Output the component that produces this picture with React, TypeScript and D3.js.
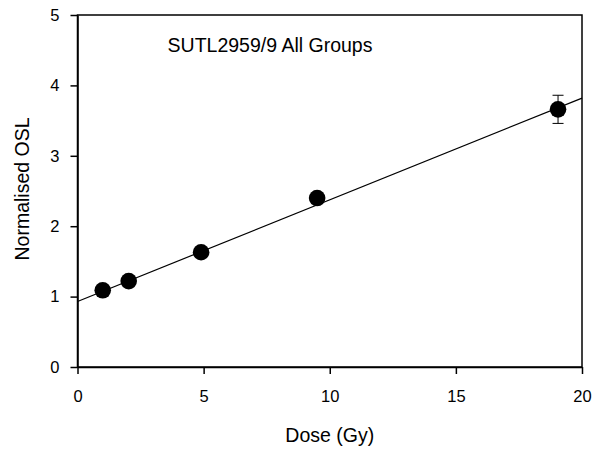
import * as d3 from "d3";
import React, { useEffect, useRef } from "react";

// measured points (dose in Gy, normalised OSL, error)
const doses = [1.0, 2.03, 4.9, 9.5, 19.05];
const osl = [1.09, 1.22, 1.63, 2.4, 3.66];
const errs = [0.04, 0.04, 0.04, 0.06, 0.2];

// fitted line endpoints
const fitX = [0, 20];
const fitY = [0.93, 3.82];

const xTicks = [0, 5, 10, 15, 20];
const yTicks = [0, 1, 2, 3, 4, 5];

function App() {
  const ref = useRef<SVGSVGElement>(null);

  useEffect(() => {
    const svg = d3.select(ref.current);
    svg.selectAll("*").remove();

    const margin = { top: 15, right: 13, bottom: 85, left: 77.5 };
    const width = 595 - margin.left - margin.right,
      height = 452 - margin.top - margin.bottom;

    const x = d3.scaleLinear().domain([0, 20]).range([0, width]);
    const y = d3.scaleLinear().domain([0, 5]).range([height, 0]);

    const font = "Arial, 'Liberation Sans', sans-serif";

    const chart = svg
      .append("g")
      .attr("transform", "translate(" + margin.left + "," + margin.top + ")");

    // frame
    chart
      .append("rect")
      .attr("width", width)
      .attr("height", height)
      .attr("fill", "none")
      .attr("stroke", "black")
      .attr("stroke-width", 1.5);

    const xAxis = chart
      .append("g")
      .attr("transform", "translate(0," + height + ")")
      .call(
        d3.axisBottom(x).tickValues(xTicks).tickFormat(d3.format("d")).tickSizeInner(7).tickSizeOuter(0).tickPadding(16)
      );
    const yAxis = chart
      .append("g")
      .call(
        d3.axisLeft(y).tickValues(yTicks).tickFormat(d3.format("d")).tickSizeInner(7).tickSizeOuter(0).tickPadding(11)
      );

    [xAxis, yAxis].forEach((a) => {
      a.select(".domain").attr("stroke-width", 1.5);
      a.selectAll(".tick line").attr("stroke-width", 1.5);
      a.selectAll("text")
        .attr("font-family", font)
        .attr("font-size", "16.5px")
        .attr("fill", "black");
    });

    // fit line
    chart
      .append("line")
      .attr("x1", x(fitX[0]))
      .attr("y1", y(fitY[0]))
      .attr("x2", x(fitX[1]))
      .attr("y2", y(fitY[1]))
      .attr("stroke", "black")
      .attr("stroke-width", 1.2);

    const data = doses.map((d, i) => ({ dose: d, v: osl[i], e: errs[i] }));

    // error bars
    const eb = chart.selectAll(".eb").data(data).enter().append("g");
    eb.append("line")
      .attr("x1", (d) => x(d.dose))
      .attr("x2", (d) => x(d.dose))
      .attr("y1", (d) => y(d.v + d.e))
      .attr("y2", (d) => y(d.v - d.e))
      .attr("stroke", "black");
    [1, -1].forEach((s) => {
      eb.append("line")
        .attr("x1", (d) => x(d.dose) - 5.5)
        .attr("x2", (d) => x(d.dose) + 5.5)
        .attr("y1", (d) => y(d.v + s * d.e))
        .attr("y2", (d) => y(d.v + s * d.e))
        .attr("stroke", "black");
    });

    chart
      .selectAll(".pt")
      .data(data)
      .enter()
      .append("circle")
      .attr("cx", (d) => x(d.dose))
      .attr("cy", (d) => y(d.v))
      .attr("r", 8.3)
      .attr("fill", "black");

    chart
      .append("text")
      .attr("x", 270 - margin.left)
      .attr("y", 37)
      .attr("text-anchor", "middle")
      .attr("font-family", font)
      .attr("font-size", "19.5px")
      .text("SUTL2959/9 All Groups");

    chart
      .append("text")
      .attr("x", width / 2)
      .attr("y", height + 75)
      .attr("text-anchor", "middle")
      .attr("font-family", font)
      .attr("font-size", "19.5px")
      .text("Dose (Gy)");

    chart
      .append("text")
      .attr("transform", "rotate(-90)")
      .attr("x", -height / 2 + 2)
      .attr("y", -margin.left + 29)
      .attr("text-anchor", "middle")
      .attr("font-family", font)
      .attr("font-size", "19.5px")
      .text("Normalised OSL");
  }, []);

  return <svg ref={ref} width={595} height={452} style={{ position: "absolute", left: 0, top: 0 }} />;
}

export default App;
